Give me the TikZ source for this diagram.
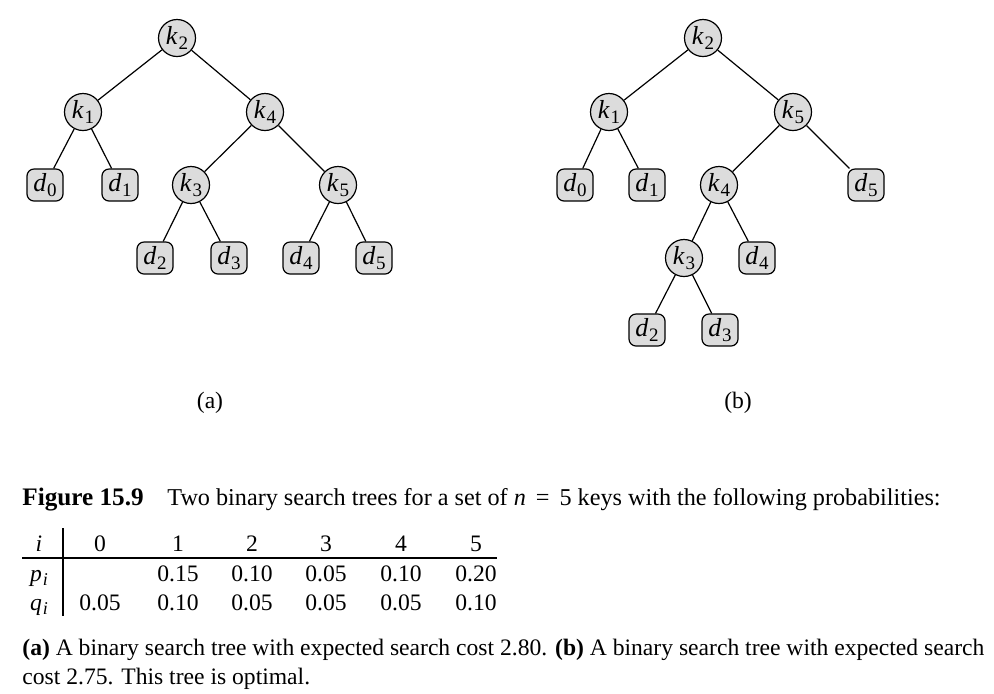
\documentclass[tikz,border=0pt]{standalone}
\usepackage{fontspec}
\setmainfont{Liberation Serif}
\usepackage{xcolor}
\definecolor{nodegray}{HTML}{DCDCDC}
\usetikzlibrary{positioning}
\tikzset{
  keynode/.style  ={circle,draw=black,fill=nodegray,line width=0.6pt,
                    minimum size=18.5pt,inner sep=0pt,font=\fontsize{13}{14}\selectfont},
  dummynode/.style={rectangle,rounded corners=3.5pt,draw=black,fill=nodegray,
                    line width=0.6pt,minimum width=18pt,minimum height=16pt,
                    inner sep=0pt,font=\fontsize{13}{14}\selectfont},
  edge/.style     ={draw=black,line width=0.6pt},
  txt/.style      ={font=\fontsize{11.8}{14}\selectfont,inner sep=0pt},
}
\newcommand{\lbl}[2]{\textit{#1}\kern0.03em\raisebox{-0.45ex}{\fontsize{9.5}{10}\selectfont #2}}
\newcommand{\lbi}[1]{\textit{#1}\kern0.03em\raisebox{-0.45ex}{\fontsize{9}{10}\selectfont\itshape i}}

\begin{document}
\begin{tikzpicture}[x=0.5pt,y=-0.5pt]
\useasboundingbox (0,0) rectangle (994,693);
% tree (a)
\node[keynode]   (a2) at (177,38)  {\lbl{k}{2}};
\node[keynode]   (a1) at (83,112)  {\lbl{k}{1}};
\node[keynode]   (a4) at (265,112) {\lbl{k}{4}};
\node[dummynode] (ad0) at (45,185) {\lbl{d}{0}};
\node[dummynode] (ad1) at (120,185) {\lbl{d}{1}};
\node[keynode]   (a3) at (191,185) {\lbl{k}{3}};
\node[keynode]   (a5) at (338,185) {\lbl{k}{5}};
\node[dummynode] (ad2) at (155,258) {\lbl{d}{2}};
\node[dummynode] (ad3) at (229,258) {\lbl{d}{3}};
\node[dummynode] (ad4) at (301,258) {\lbl{d}{4}};
\node[dummynode] (ad5) at (374,258) {\lbl{d}{5}};
\foreach \p/\c in {a2/a1,a2/a4,a1/ad0,a1/ad1,a4/a3,a4/a5,a3/ad2,a3/ad3,a5/ad4,a5/ad5}
  \draw[edge] (\p) -- (\c);
\node[txt] (capa) at (210,403) {(a)};
% tree (b)
\node[keynode]   (b2) at (703,38)  {\lbl{k}{2}};
\node[keynode]   (b1) at (609,112) {\lbl{k}{1}};
\node[keynode]   (b5) at (793,112) {\lbl{k}{5}};
\node[dummynode] (bd0) at (575,185) {\lbl{d}{0}};
\node[dummynode] (bd1) at (647,185) {\lbl{d}{1}};
\node[keynode]   (b4) at (719,185) {\lbl{k}{4}};
\node[dummynode] (bd5) at (866,185) {\lbl{d}{5}};
\node[keynode]   (b3) at (684,258) {\lbl{k}{3}};
\node[dummynode] (bd4) at (757,258) {\lbl{d}{4}};
\node[dummynode] (bd2) at (647,330) {\lbl{d}{2}};
\node[dummynode] (bd3) at (720,330) {\lbl{d}{3}};
\foreach \p/\c in {b2/b1,b2/b5,b1/bd0,b1/bd1,b5/b4,b5/bd5,b4/b3,b4/bd4,b3/bd2,b3/bd3}
  \draw[edge] (\p) -- (\c);
\node[txt] (capb) at (738,403) {(b)};
% caption
\node[txt,anchor=base west,font=\fontsize{12.6}{14}\selectfont] (fig) at (22,505) {\textbf{Figure 15.9}};
\node[txt,anchor=base west,font=\fontsize{12.1}{14}\selectfont] (figtxt) at (167,505)
  {Two binary search trees for a set of \textit{n}\hspace{5pt}=\hspace{5pt}5 keys with the following probabilities:};
% table
\node[txt,anchor=base] (hi) at (39,551) {\textit{i}};
\node[txt,anchor=base] (hp) at (39,581) {\lbi{p}};
\node[txt,anchor=base] (hq) at (39,610) {\lbi{q}};
\foreach \x/\i/\pv/\qv in {100/0//0.05,178/1/0.15/0.10,252/2/0.10/0.05,
                          326/3/0.05/0.05,401/4/0.10/0.05,476/5/0.20/0.10}{
  \node[txt,anchor=base] (i\i) at (\x,551) {\i};
  \node[txt,anchor=base] (p\i) at (\x,581) {\pv};
  \node[txt,anchor=base] (q\i) at (\x,610) {\qv};
}
\draw[line width=0.75pt] (22,558) -- (497,558);
\draw[line width=1pt] (63,528) -- (63,616);
% description
\node[txt,anchor=base west] (desc1) at (22,655)
  {\textbf{(a)} A binary search tree with expected search cost 2.80. \textbf{(b)} A binary search tree with expected search};
\node[txt,anchor=base west] (desc2) at (22,684) {cost 2.75. This tree is optimal.};
\end{tikzpicture}
\end{document}
